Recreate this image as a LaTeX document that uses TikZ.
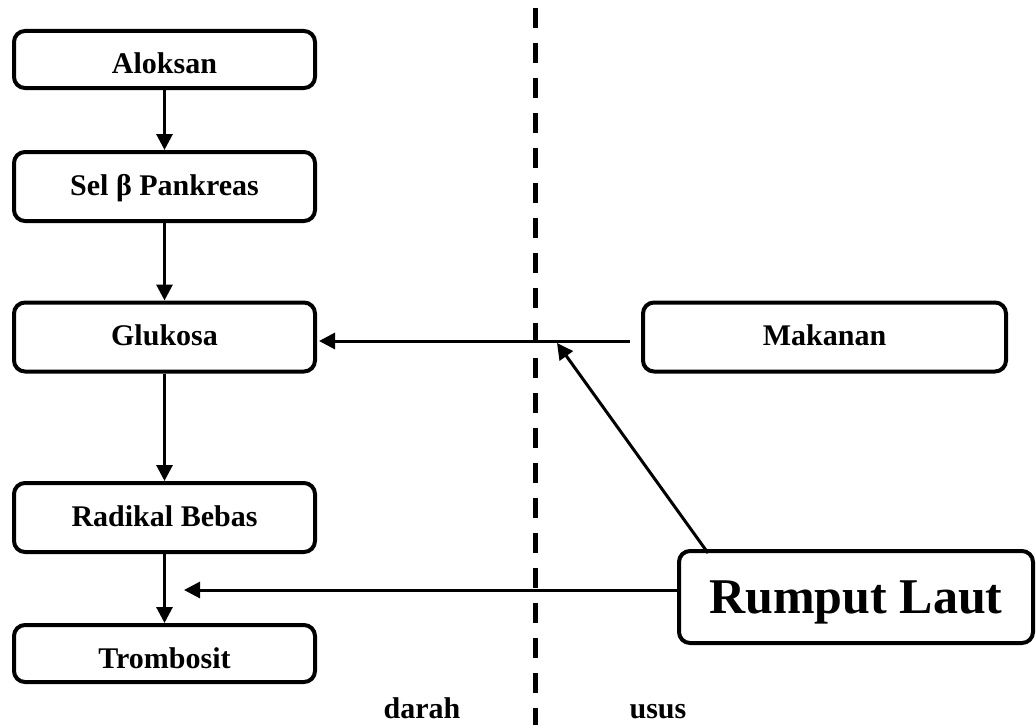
\documentclass[tikz,border=0pt]{standalone}
\usepackage{fontspec}
\setmainfont{Liberation Serif}
\usetikzlibrary{arrows.meta}
\begin{document}
\begin{tikzpicture}[x=1pt,y=-1pt,
  box/.style={draw, line width=4pt, rounded corners=11pt, align=center,
    font=\fontsize{30}{36}\selectfont\bfseries, inner sep=0pt, text depth=0pt},
  tallbox/.style={box, minimum height=69pt, text height=17pt},
  lowbox/.style={box, minimum height=57pt, text height=29pt},
  arr/.style={line width=3pt, -{Triangle[length=16pt,width=16pt]}},
  lbl/.style={font=\fontsize{30}{36}\selectfont\bfseries, inner sep=0pt, anchor=base}]
\useasboundingbox (0,0) rectangle (1036,725);
\node[lowbox, minimum width=301pt] (alok) at (164.5,59.5) {Aloksan};
\node[tallbox, minimum width=301pt] (sel) at (164.5,186.5) {Sel β Pankreas};
\node[tallbox, minimum width=301pt] (glu) at (164.5,337) {Glukosa};
\node[tallbox, minimum width=301pt] (rad) at (164.5,517.5) {Radikal Bebas};
\node[lowbox, minimum width=301pt] (tromb) at (164.5,653.5) {Trombosit};
\node[tallbox, minimum width=363pt] (mak) at (824.5,337) {Makanan};
\node[box, minimum width=354pt, minimum height=92pt, text height=32pt,
  font=\fontsize{50}{60}\selectfont\bfseries] (rl) at (856,597) {Rumput Laut};
\node[lbl] (darah) at (422,718) {darah};
\node[lbl] (usus) at (658,718) {usus};
\coordinate (dtop) at (535,8);
\coordinate (dbot) at (535,725);
\coordinate (join) at (557,343);
\coordinate (rtip) at (184,590);
\coordinate (rlfoot) at (708,553);
\draw[line width=5pt, dash pattern=on 20pt off 15pt] (dtop) -- (dbot);
\draw[arr] (alok.south) -- (sel.north);
\draw[arr] (sel.south) -- (glu.north);
\draw[arr] (glu.south) -- (rad.north);
\draw[arr] (rad.south) -- (tromb.north);
\draw[arr] ([xshift=-11pt,yshift=-4pt]mak.west) -- ([xshift=2pt,yshift=-4pt]glu.east);
\draw[arr] (rlfoot) -- (join);
\draw[arr] (rl.west |- rtip) -- (rtip);
\end{tikzpicture}
\end{document}
